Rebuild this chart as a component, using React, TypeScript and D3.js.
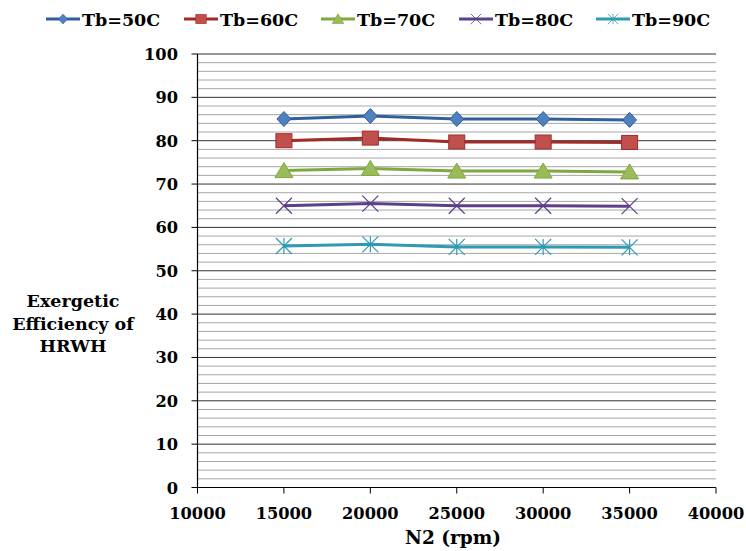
import React from "react";
import * as d3 from "d3";

const xValues = [15000, 20000, 25000, 30000, 35000];
const seriesNames = ["Tb=50C", "Tb=60C", "Tb=70C", "Tb=80C", "Tb=90C"];
const tb50 = [85.0, 85.7, 85.0, 85.0, 84.8];
const tb60 = [80.0, 80.6, 79.7, 79.7, 79.6];
const tb70 = [73.1, 73.6, 73.0, 73.0, 72.8];
const tb80 = [65.0, 65.5, 65.0, 65.0, 64.9];
const tb90 = [55.7, 56.1, 55.5, 55.5, 55.4];
const xTicks = [10000, 15000, 20000, 25000, 30000, 35000, 40000];
const yTicks = [0, 10, 20, 30, 40, 50, 60, 70, 80, 90, 100];

const seriesData = [tb50, tb60, tb70, tb80, tb90];
const lineColors = ["#2F5F9E", "#A32A27", "#7FA840", "#5C3F88", "#2E9AB3"];
const fillColors = ["#4F81BD", "#C0504D", "#9BBB59", "#8064A2", "#4BACC6"];
const markerTypes = ["diamond", "square", "triangle", "x", "star"];

const FONT = "DejaVu Serif, serif";

function T({ x, y, anchor = "start", size = 17.5, sx = 1, children }: any) {
  return (
    <text
      transform={`translate(${x},${y}) scale(${sx},1)`}
      textAnchor={anchor}
      style={{ fontFamily: FONT, fontWeight: "bold", fontSize: size }}
      fill="#000"
    >
      {children}
    </text>
  );
}

function Marker({ type, cx, cy, fill, stroke }: any) {
  if (type === "diamond") {
    const w = 7, h = 7.5;
    return <path d={`M${cx},${cy - h}L${cx + w},${cy}L${cx},${cy + h}L${cx - w},${cy}Z`} fill={fill} stroke={stroke} strokeWidth={1} />;
  }
  if (type === "square") {
    const w = 8, h = 7;
    return <rect x={cx - w} y={cy - h} width={2 * w} height={2 * h} fill={fill} stroke={stroke} strokeWidth={1} />;
  }
  if (type === "triangle") {
    const s = 8;
    return <path d={`M${cx},${cy - s}L${cx + s + 1},${cy + s - 1}L${cx - s - 1},${cy + s - 1}Z`} fill={fill} stroke={stroke} strokeWidth={1} />;
  }
  if (type === "x") {
    const s = 8;
    return <path d={`M${cx - s},${cy - s}L${cx + s},${cy + s}M${cx - s},${cy + s}L${cx + s},${cy - s}`} stroke={stroke} strokeWidth={1.2} fill="none" />;
  }
  const s = 8;
  return <path d={`M${cx - s},${cy - s}L${cx + s},${cy + s}M${cx - s},${cy + s}L${cx + s},${cy - s}M${cx},${cy - s}L${cx},${cy + s}`} stroke={stroke} strokeWidth={1.2} fill="none" />;
}

export default function App() {
  const W = 746, H = 551;
  const left = 197.5, right = 716, top = 54, bottom = 487.5;
  const x = d3.scaleLinear().domain([10000, 40000]).range([left, right]);
  const y = d3.scaleLinear().domain([0, 100]).range([bottom, top]);
  const minor = d3.range(0, 101, 2).filter((v) => v % 10 !== 0);
  const line = d3.line<number>().x((_, i) => x(xValues[i])).y((d) => y(d));

  const legendX = [46, 184, 321, 459, 596];
  const ly = 19;

  return (
    <svg width={W} height={H} style={{ position: "absolute", left: 0, top: 0, background: "#fff" }}>
      {minor.map((v) => (
        <line key={"m" + v} x1={left} x2={right} y1={y(v)} y2={y(v)} stroke="#a6a6a6" strokeWidth={1} />
      ))}
      {yTicks.filter((v) => v > 0).map((v) => (
        <line key={"g" + v} x1={left} x2={right} y1={y(v)} y2={y(v)} stroke="#333" strokeWidth={1} />
      ))}
      <line x1={left} x2={left} y1={top} y2={bottom} stroke="#000" strokeWidth={1.2} />
      <line x1={left} x2={right} y1={bottom} y2={bottom} stroke="#000" strokeWidth={1.2} />
      {yTicks.map((v) => (
        <g key={"yt" + v}>
          <line x1={left - 6} x2={left} y1={y(v)} y2={y(v)} stroke="#000" />
          <T x={178} y={y(v) + 6} anchor="end" sx={0.93}>{v}</T>
        </g>
      ))}
      {xTicks.map((v) => (
        <g key={"xt" + v}>
          <line x1={x(v)} x2={x(v)} y1={bottom} y2={bottom + 6} stroke="#000" />
          <T x={x(v)} y={519} anchor="middle" sx={0.93}>{v}</T>
        </g>
      ))}
      <T x={453} y={544} anchor="middle" size={18.5}>N2 (rpm)</T>
      {["Exergetic", "Efficiency of", "HRWH"].map((t, i) => (
        <T key={t} x={73} y={307 + i * 22.5} anchor="middle" size={17.5}>{t}</T>
      ))}
      {seriesData.map((d, si) => (
        <g key={"s" + si}>
          <path d={line(d) || ""} fill="none" stroke={lineColors[si]} strokeWidth={3} />
          {d.map((v, i) => (
            <Marker key={i} type={markerTypes[si]} cx={x(xValues[i])} cy={y(v)} fill={fillColors[si]} stroke={lineColors[si]} />
          ))}
        </g>
      ))}
      {seriesNames.map((n, si) => (
        <g key={"l" + si}>
          <line x1={legendX[si]} x2={legendX[si] + 34} y1={ly} y2={ly} stroke={lineColors[si]} strokeWidth={3} />
          <g transform={`translate(${legendX[si] + 17},${ly}) scale(0.65) translate(${-(legendX[si] + 17)},${-ly})`}>
            <Marker type={markerTypes[si]} cx={legendX[si] + 17} cy={ly} fill={fillColors[si]} stroke={lineColors[si]} />
          </g>
          <T x={legendX[si] + 36} y={ly + 6.5}>{n}</T>
        </g>
      ))}
    </svg>
  );
}
